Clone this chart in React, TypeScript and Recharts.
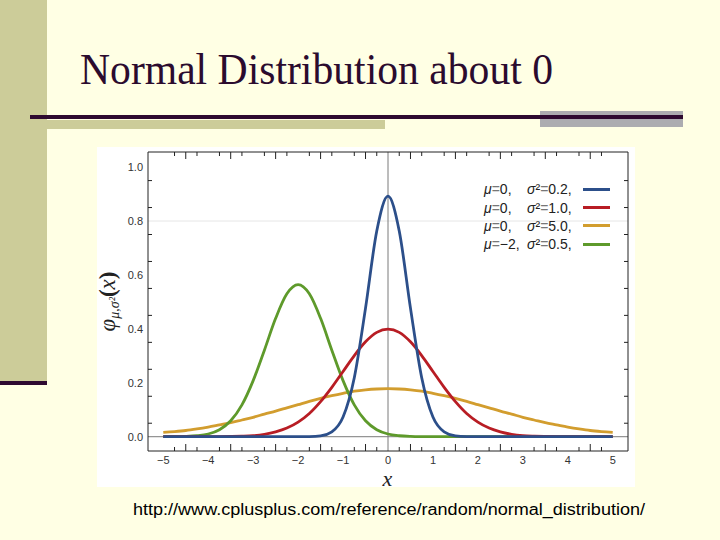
import { LineChart, Line, XAxis, YAxis, ReferenceLine } from "recharts";

// x positions the curves were read at
const X = [
  -5, -4.75, -4.5, -4.25, -4, -3.75, -3.5, -3.25, -3, -2.75, -2.5, -2.25, -2,
  -1.75, -1.5, -1.25, -1, -0.75, -0.5, -0.25, 0, 0.25, 0.5, 0.75, 1, 1.25, 1.5,
  1.75, 2, 2.25, 2.5, 2.75, 3, 3.25, 3.5, 3.75, 4, 4.25, 4.5, 4.75, 5,
];

// mu = 0, sigma^2 = 0.2
const BLUE = [
  0, 0, 0, 0, 0, 0, 0, 0, 0, 0, 0, 0, 0,
  0.0004, 0.003, 0.018, 0.073, 0.219, 0.477, 0.763, 0.892, 0.763, 0.477, 0.219, 0.073, 0.018, 0.003, 0.0004,
  0, 0, 0, 0, 0, 0, 0, 0, 0, 0, 0, 0, 0,
];

// mu = 0, sigma^2 = 1.0
const RED = [
  0, 0, 0, 0, 0,
  0.0004, 0.001, 0.002, 0.004, 0.009, 0.018, 0.032, 0.054, 0.086, 0.13, 0.183, 0.242, 0.301, 0.352, 0.387,
  0.399,
  0.387, 0.352, 0.301, 0.242, 0.183, 0.13, 0.086, 0.054, 0.032, 0.018, 0.009, 0.004, 0.002, 0.001, 0.0004,
  0, 0, 0, 0, 0,
];

// mu = 0, sigma^2 = 5.0
const GOLD = [
  0.016, 0.019, 0.023, 0.029, 0.036, 0.044, 0.052, 0.062, 0.072, 0.084, 0.095, 0.107, 0.119, 0.131, 0.142,
  0.152, 0.161, 0.169, 0.174, 0.177, 0.178, 0.177, 0.174, 0.169, 0.161, 0.152, 0.142, 0.131, 0.119, 0.107,
  0.095, 0.084, 0.072, 0.062, 0.052, 0.044, 0.036, 0.029, 0.023, 0.019, 0.016,
];

// mu = -2, sigma^2 = 0.5
const GREEN = [
  0.0001, 0.0003, 0.0011, 0.0036, 0.01, 0.026, 0.059, 0.118, 0.208, 0.321, 0.439, 0.53, 0.564, 0.53,
  0.439, 0.321, 0.208, 0.118, 0.059, 0.026, 0.01, 0.0036, 0.0011, 0.0003, 0.0001,
  0, 0, 0, 0, 0, 0, 0, 0, 0, 0, 0, 0, 0, 0, 0, 0,
];

const MU = ["0,", "0,", "0,", "\u22122,"];
const SIGMA2 = ["0.2,", "1.0,", "5.0,", "0.5,"];
const COLORS = ["#2C4F8A", "#B81D24", "#D29D2E", "#5E9A2B"];

const X_LABELS = [-5, -4, -3, -2, -1, 0, 1, 2, 3, 4, 5];
const X_MINOR = [
  -4.75, -4.5, -4.25, -3.75, -3.5, -3.25, -2.75, -2.5, -2.25, -1.75, -1.5, -1.25, -0.75, -0.5, -0.25,
  0.25, 0.5, 0.75, 1.25, 1.5, 1.75, 2.25, 2.5, 2.75, 3.25, 3.5, 3.75, 4.25, 4.5, 4.75,
];
const Y_LABELS = [0, 0.2, 0.4, 0.6, 0.8, 1.0];
const Y_MINOR = [0.05, 0.15, 0.25, 0.35, 0.45, 0.55, 0.65, 0.75, 0.85, 0.95];

const data = X.map((x, i) => ({
  x,
  blue: BLUE[i],
  red: RED[i],
  gold: GOLD[i],
  green: GREEN[i],
}));

const FONT = "'Liberation Sans', Arial, sans-serif";
const FRAME = "#222";

const fmt = (v: number) => (v < 0 ? "\u2212" + Math.abs(v) : String(v));

const BottomTick = ({ x, y, payload }: any) => {
  const v = payload.value;
  if (Number.isInteger(v)) {
    return (
      <text x={x} y={y + 13} textAnchor="middle" fontSize={11} fill="#333" fontFamily={FONT}>
        {fmt(v)}
      </text>
    );
  }
  const len = Number.isInteger(v * 2) ? 7 : 4;
  return <line x1={x} y1={y} x2={x} y2={y - len} stroke={FRAME} />;
};

const TopTick = ({ x, y, payload }: any) => {
  const v = payload.value;
  const len = Number.isInteger(v * 2) ? 7 : 4;
  return <line x1={x} y1={y} x2={x} y2={y + len} stroke={FRAME} />;
};

const LeftTick = ({ x, y, payload }: any) => {
  const v = payload.value;
  if (Y_LABELS.includes(v)) {
    return (
      <text x={x - 5} y={y + 4} textAnchor="end" fontSize={11} fill="#333" fontFamily={FONT}>
        {v.toFixed(1)}
      </text>
    );
  }
  return <line x1={x} y1={y} x2={x + 4} y2={y} stroke={FRAME} />;
};

const RightTick = ({ x, y }: any) => <line x1={x} y1={y} x2={x - 4} y2={y} stroke={FRAME} />;

const YLabel = ({ viewBox }: any) => {
  const cx = viewBox.x + 11;
  const cy = viewBox.y + viewBox.height / 2;
  return (
    <text
      x={cx}
      y={cy}
      transform={`rotate(-90 ${cx} ${cy})`}
      textAnchor="middle"
      fontFamily="'Liberation Serif', serif"
      fill="#222"
      fontSize={23}
      dy={7}
    >
      <tspan fontStyle="italic">φ</tspan>
      <tspan fontStyle="italic" fontSize={14} dy={4}>
        μ,σ²
      </tspan>
      <tspan dy={-4} fontWeight="bold">(</tspan>
      <tspan fontStyle="italic">x</tspan>
      <tspan fontWeight="bold">)</tspan>
    </text>
  );
};

const XLabel = ({ viewBox }: any) => (
  <text
    x={viewBox.x + viewBox.width / 2 - 0.5}
    y={viewBox.y + 35}
    textAnchor="middle"
    fontFamily="'Liberation Serif', serif"
    fontStyle="italic"
    fontSize={22}
    fill="#222"
  >
    x
  </text>
);

function CurveLegend() {
  return (
    <div style={{ position: "absolute", left: 397, top: 33, fontFamily: FONT, fontSize: 14, color: "#222" }}>
      {COLORS.map((c, i) => (
        <div key={i} style={{ display: "flex", alignItems: "center", height: 18.4 }}>
          <span style={{ width: 43, whiteSpace: "nowrap" }}>
            <i>μ</i>
            <span style={{ color: "#777" }}>=</span>
            {MU[i]}
          </span>
          <span style={{ width: 56, whiteSpace: "nowrap" }}>
            <i>σ</i>²<span style={{ color: "#777" }}>=</span>
            {SIGMA2[i]}
          </span>
          <span style={{ width: 27, height: 3, background: c, display: "inline-block" }} />
        </div>
      ))}
    </div>
  );
}

export default function App() {
  return (
    <div
      style={{
        position: "absolute",
        left: 0,
        top: 0,
        width: 720,
        height: 540,
        background: "#FFFFE4",
        overflow: "hidden",
      }}
    >
      <svg width={720} height={540} style={{ position: "absolute", left: 0, top: 0 }}>
        <rect x={0} y={0} width={47} height={382} fill="#CCCC99" />
        <rect x={0} y={381} width={47} height={4} fill="#2E0A30" />
        <rect x={47} y={120} width={338} height={9} fill="#CCCC99" />
        <rect x={540} y={111} width={143} height={16} fill="#ACACB0" />
        <rect x={30} y={115} width={653} height={4} fill="#2E0A30" />
        <rect x={97} y={147} width={538} height={340} fill="#fff" />
        <text
          x={80}
          y={84}
          fontFamily="'Liberation Serif', 'Times New Roman', serif"
          fontSize={45}
          fill="#2B0B2E"
          textLength={473}
          lengthAdjust="spacingAndGlyphs"
        >
          Normal Distribution about 0
        </text>
        <text
          x={133}
          y={515}
          fontFamily={FONT}
          fontSize={16}
          fill="#000"
          textLength={512}
          lengthAdjust="spacingAndGlyphs"
        >
          http://www.cplusplus.com/reference/random/normal_distribution/
        </text>
      </svg>
      <div style={{ position: "absolute", left: 87, top: 147, width: 548, height: 355 }}>
        <LineChart width={548} height={355} data={data} margin={{ top: 0, right: 0, bottom: 15, left: 10 }}>
          <XAxis
            dataKey="x"
            type="number"
            domain={[-5.34, 5.34]}
            allowDataOverflow
            ticks={[...X_LABELS, ...X_MINOR]}
            interval={0}
            height={36}
            tickSize={0}
            tickMargin={0}
            tickLine={false}
            axisLine={{ stroke: FRAME }}
            tick={<BottomTick />}
            label={<XLabel />}
          />
          <XAxis
            xAxisId="top"
            orientation="top"
            dataKey="x"
            type="number"
            domain={[-5.34, 5.34]}
            allowDataOverflow
            ticks={X_MINOR}
            interval={0}
            height={5}
            tickSize={0}
            tickMargin={0}
            tickLine={false}
            axisLine={{ stroke: FRAME }}
            tick={<TopTick />}
          />
          <YAxis
            type="number"
            domain={[-0.053, 1.056]}
            allowDataOverflow
            ticks={[...Y_LABELS, ...Y_MINOR]}
            interval={0}
            width={51}
            tickSize={0}
            tickMargin={0}
            tickLine={false}
            axisLine={{ stroke: FRAME }}
            tick={<LeftTick />}
            label={<YLabel />}
          />
          <YAxis
            yAxisId="right"
            orientation="right"
            type="number"
            domain={[-0.053, 1.056]}
            allowDataOverflow
            ticks={Y_MINOR}
            interval={0}
            width={7}
            tickSize={0}
            tickMargin={0}
            tickLine={false}
            axisLine={{ stroke: FRAME }}
            tick={<RightTick />}
          />
          <ReferenceLine y={0.8} stroke="#e6e6e6" />
          <ReferenceLine y={0} stroke="#7a7a7a" />
          <ReferenceLine x={0} stroke="#7a7a7a" />
          <Line type="monotone" dataKey="gold" stroke={COLORS[2]} strokeWidth={2.8} dot={false} isAnimationActive={false} />
          <Line type="monotone" dataKey="green" stroke={COLORS[3]} strokeWidth={2.8} dot={false} isAnimationActive={false} />
          <Line type="monotone" dataKey="red" stroke={COLORS[1]} strokeWidth={2.8} dot={false} isAnimationActive={false} />
          <Line type="monotone" dataKey="blue" stroke={COLORS[0]} strokeWidth={2.8} dot={false} isAnimationActive={false} />
        </LineChart>
        <CurveLegend />
      </div>
    </div>
  );
}
